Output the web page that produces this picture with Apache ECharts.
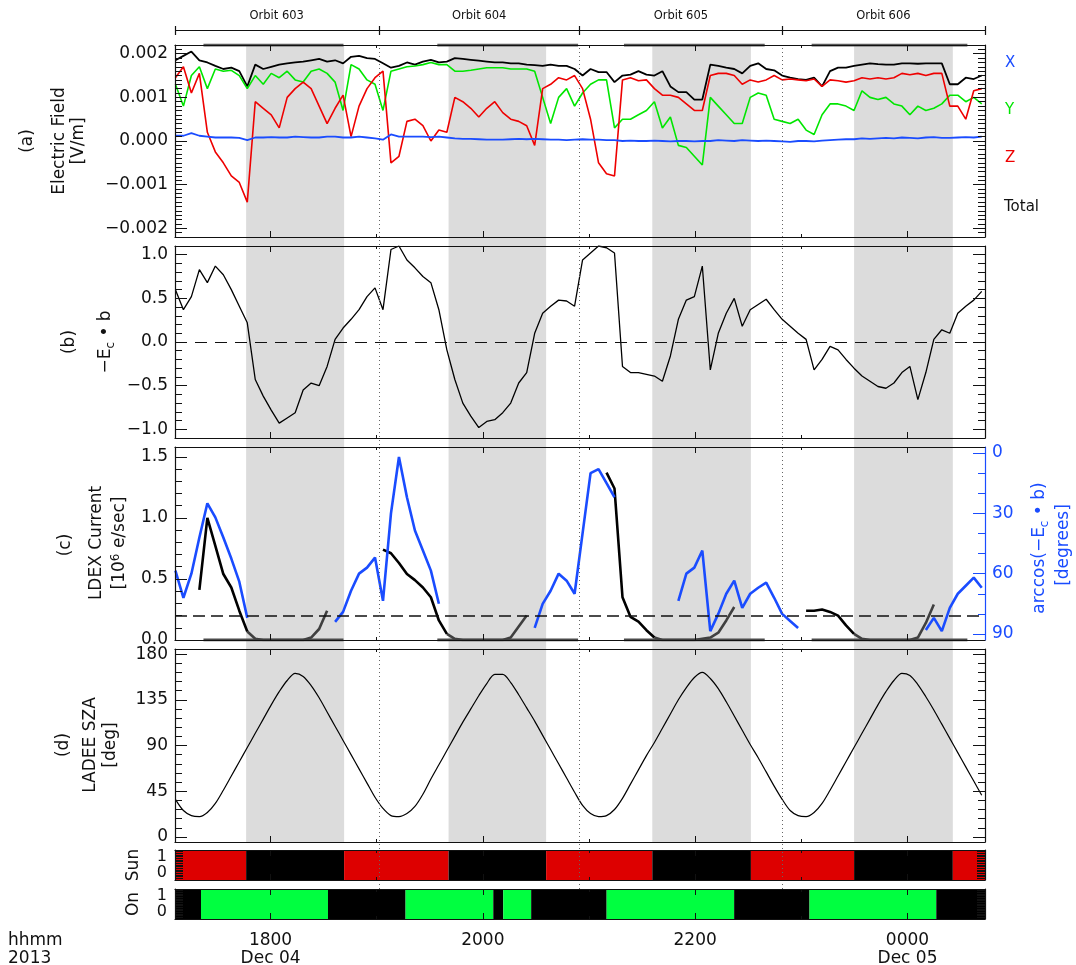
<!DOCTYPE html>
<html>
<head>
<meta charset="utf-8">
<title>LADEE orbits 603-606</title>
<script src="https://cdn.jsdelivr.net/npm/echarts@6/dist/echarts.min.js"></script>
<style>
html, body { margin: 0; padding: 0; background: #fff; }
#main { width: 1076px; height: 965px; }
</style>
</head>
<body>
<div id="main"></div>
<script>
// time in hours from 00:00 Dec 04, samples every ~4.5 min
var t0 = 17.104, dt = 0.0752;
var xMin = 17.10, xMax = 24.73;

// (a) electric field, units of 1e-3 V/m
var eTot = [1.85,1.95,2.05,1.85,1.8,1.72,1.65,1.68,1.6,1.25,
  1.75,1.65,1.7,1.75,1.78,1.8,1.82,1.85,1.88,1.82,
  1.85,1.78,1.93,1.95,1.9,1.88,1.78,1.68,1.72,1.8,
  1.75,1.82,1.86,1.8,1.82,1.9,1.88,1.86,1.84,1.82,
  1.8,1.8,1.78,1.78,1.75,1.74,1.72,1.75,1.72,1.72,
  1.65,1.5,1.65,1.58,1.58,1.35,1.5,1.52,1.6,1.52,
  1.5,1.6,1.25,1.12,1.12,0.95,0.95,1.75,1.72,1.68,
  1.65,1.55,1.72,1.78,1.65,1.62,1.5,1.45,1.42,1.4,
  1.45,1.25,1.6,1.68,1.68,1.72,1.75,1.78,1.76,1.75,
  1.75,1.78,1.78,1.77,1.78,1.78,1.78,1.3,1.3,1.45,
  1.42,1.5];
var eY = [1.3,0.8,1.5,1.7,1.2,1.65,1.6,1.62,1.5,1.2,
  1.5,1.3,1.55,1.45,1.6,1.4,1.35,1.6,1.65,1.55,
  1.35,0.7,1.75,1.65,1.4,1.3,0.7,1.6,1.65,1.7,
  1.72,1.75,1.8,1.75,1.75,1.6,1.6,1.62,1.65,1.68,
  1.68,1.68,1.65,1.65,1.65,1.6,1.0,0.4,1.0,1.2,
  0.8,1.1,1.3,1.4,1.4,0.3,0.5,0.5,0.6,0.7,
  0.9,0.3,0.55,-0.1,-0.15,-0.35,-0.55,1.0,0.8,0.6,
  0.4,0.4,1.0,1.1,1.05,0.5,0.45,0.4,0.5,0.25,
  0.15,0.6,0.85,0.85,0.8,0.7,1.15,1.0,0.95,1.0,
  0.85,0.8,0.6,0.8,0.7,0.75,0.85,1.05,1.05,0.9,
  1.0,0.85];
var eZ = [1.45,1.7,1.1,1.55,0.2,-0.25,-0.5,-0.8,-0.95,-1.4,
  0.9,0.75,0.6,0.3,1.0,1.2,1.35,1.2,0.8,0.4,
  0.75,1.05,0.1,0.8,1.2,1.45,1.6,-0.5,-0.35,0.45,
  0.5,0.35,0.0,0.25,0.2,1.0,0.9,0.75,0.55,0.75,
  0.9,0.65,0.5,0.45,0.35,-0.1,1.2,1.3,1.45,1.4,
  1.5,1.2,0.5,-0.5,-0.75,-0.8,1.4,1.45,1.38,1.4,
  1.2,1.05,1.05,1.0,0.85,0.7,0.7,1.5,1.55,1.55,
  1.5,1.3,1.4,1.35,1.4,1.5,1.4,1.42,1.4,1.38,
  1.42,1.25,1.4,1.38,1.35,1.38,1.45,1.42,1.45,1.42,
  1.45,1.55,1.52,1.55,1.5,1.55,1.55,0.8,0.8,0.5,
  1.15,1.2];
var eX = [0.12,0.12,0.18,0.12,0.1,0.08,0.08,0.08,0.07,0.02,
  0.08,0.08,0.09,0.08,0.08,0.1,0.09,0.08,0.08,0.1,
  0.1,0.08,0.08,0.1,0.08,0.06,0.03,0.15,0.1,0.1,
  0.1,0.1,0.09,0.1,0.08,0.06,0.05,0.05,0.04,0.03,
  0.03,0.03,0.04,0.05,0.04,0.05,0.04,0.03,0.03,0.02,
  0.03,0.04,0.03,0.03,0.02,0.02,0.0,0.01,0.0,0.0,
  0.01,0.0,-0.01,0.0,0.0,-0.01,0.0,0.0,0.02,0.01,
  0.0,0.02,0.01,0.0,0.01,0.0,-0.01,-0.02,0.0,0.0,
  -0.01,0.01,0.02,0.03,0.04,0.04,0.06,0.05,0.06,0.07,
  0.06,0.08,0.07,0.06,0.08,0.09,0.07,0.07,0.08,0.09,
  0.08,0.1];

// (b) -Ec . b
var ecb = [0.6,0.37,0.52,0.83,0.68,0.87,0.77,0.6,0.41,0.22,
  -0.43,-0.62,-0.78,-0.93,-0.87,-0.81,-0.55,-0.47,-0.5,-0.28,
  0.03,0.16,0.26,0.37,0.52,0.62,0.37,1.06,1.1,0.94,
  0.85,0.75,0.68,0.37,-0.09,-0.43,-0.7,-0.85,-0.98,-0.91,
  -0.89,-0.81,-0.7,-0.47,-0.35,0.1,0.33,0.41,0.48,0.47,
  0.41,0.94,1.02,1.1,1.08,1.02,-0.28,-0.35,-0.35,-0.37,
  -0.39,-0.45,-0.16,0.26,0.48,0.52,0.87,-0.32,0.1,0.33,
  0.5,0.18,0.37,0.43,0.49,0.37,0.26,0.18,0.1,0.03,
  -0.32,-0.2,-0.05,-0.09,-0.2,-0.3,-0.39,-0.45,-0.51,-0.53,
  -0.47,-0.35,-0.28,-0.66,-0.35,0.03,0.14,0.1,0.33,0.41,
  0.48,0.58];

// (c) LDEX current (1e6 e/sec) in sunlight / shadow, and arccos(-Ec.b) in degrees
var n = null;
var ldexSun = [n,n,n,0.41,1.0,0.77,0.54,0.43,0.24,0.07,
  n,n,n,n,n,n,n,n,n,n,
  n,n,n,n,n,n,0.74,0.71,0.63,0.54,
  0.49,0.43,0.35,0.16,0.05,n,n,n,n,n,
  n,n,n,n,n,n,n,n,n,n,
  n,n,n,n,1.37,1.24,0.35,0.19,0.15,0.08,
  0.02,n,n,n,n,n,n,n,n,n,
  n,n,n,n,n,n,n,n,n,0.24,
  0.24,0.25,0.23,0.2,0.12,0.05,n,n,n,n,
  n,n,n,n,n,n,n,n,n,n,
  n,n];
var ldexShadow = [n,n,n,n,n,n,n,n,n,0.07,
  0.01,0.0,0.0,0.0,0.0,0.0,0.0,0.02,0.09,0.24,
  n,n,n,n,n,n,n,n,n,n,
  n,n,n,n,0.05,0.01,0.0,0.0,0.0,0.0,
  0.0,0.0,0.02,0.11,0.2,n,n,n,n,n,
  n,n,n,n,n,n,n,n,n,n,
  0.02,0.0,0.0,0.0,0.0,0.0,0.01,0.02,0.06,0.16,
  0.27,n,n,n,n,n,n,n,n,n,
  n,n,n,n,n,0.05,0.01,0.0,0.0,0.0,
  0.0,0.0,0.0,0.02,0.14,0.29,n,n,n,n,
  n,n];
var arcDeg = [58.5,72,60,42,25,32,42,52.5,64,82,
  n,n,n,n,n,n,n,n,n,n,
  84,79,68.5,60,57,52,73.5,30,2,22,
  38.5,48.5,58.5,75,n,n,n,n,n,n,
  n,n,n,n,n,87,75,68.5,60,63.5,
  70,40,10,8,15,22,n,n,n,n,
  n,n,n,73.5,60,57,48.5,88.6,80,70,
  63.5,77,70,67,64.5,72,80,83.5,87,n,
  n,n,n,n,n,n,n,n,n,n,
  n,n,n,n,88,82,88.6,77,70,66,
  62,67];
var ldexThreshold = 0.2;

// (d) solar zenith angle, degrees
var sza = [37,26,21,20,24,33,46,60,74,88,
  102,116,130,143,154,161,158,149,137,123,
  109,95,81,67,53,39,28,21,20,23,
  30,42,57,71,85,99,113,126,139,151,
  160,160,152,140,127,114,100,86,72,58,
  44,31,23,20,21,27,38,52,66,80,
  93,107,121,135,147,157,162,156,146,133,
  119,105,91,78,64,50,37,26,21,20,
  24,33,46,60,74,88,102,116,130,143,
  154,161,159,150,138,125,111,97,83,69,
  55,41];

var orbitEdges = [17.10, 19.016, 20.915, 22.815, 24.73];
var orbitNames = ['Orbit 603', 'Orbit 604', 'Orbit 605', 'Orbit 606'];
var sunEdges = [17.10, 17.770, 18.693, 19.677, 20.596, 21.596, 22.525, 23.497, 24.427, 24.73];
var sunState = [1, 0, 1, 0, 1, 0, 1, 0, 1];
var onEdges = [17.10, 17.345, 18.541, 19.272, 20.098, 20.192, 20.455, 21.166, 22.367, 23.077, 24.271, 24.73];
var onState = [0, 1, 0, 1, 0, 1, 0, 1, 0, 1, 0];
var flagSpans = [[17.368, 18.687], [19.571, 20.897], [21.329, 22.655], [23.097, 24.564]];

var xTickHours = [18, 20, 22, 24];
var xMinorHours = [19, 21, 23];
var xTickLabels = ['1800\nDec 04', '2000', '2200', '0000\nDec 05'];
var aTicks = [-2, -1, 0, 1, 2];
var aLabels = ['\u22120.002', '\u22120.001', '0.000', '0.001', '0.002'];
var bTicks = [-1, -0.5, 0, 0.5, 1];
var bLabels = ['\u22121.0', '\u22120.5', '0.0', '0.5', '1.0'];
var cTicks = [0, 0.5, 1, 1.5];
var cLabels = ['0.0', '0.5', '1.0', '1.5'];
var degTicks = [0, 30, 60, 90];
var degLabels = ['0', '30', '60', '90'];
var dTicks = [0, 45, 90, 135, 180];
var dLabels = ['0', '45', '90', '135', '180'];
var binTicks = [0, 1];
var binLabels = ['0', '1'];

var FONT = 'DejaVu Sans';
var INK = '#111';
var BLUE = '#1a4cff';
var grids = [], xAxes = [], yAxes = [], series = [];

function seq(a, b, s) {
  var out = [];
  for (var k = 0; a + k * s <= b + s * 1e-6; k++) out.push(+(a + k * s).toFixed(6));
  return out;
}
function pairs(vals) {
  return vals.map(function (v, i) { return [+(t0 + i * dt).toFixed(4), v === null ? '-' : v]; });
}
function spanLine(spans, y) {
  var out = [];
  spans.forEach(function (s) { out.push([s[0], y], [s[1], y], [s[1], '-']); });
  return out;
}
function lookup(ticks, labels) {
  return function (v) {
    for (var k = 0; k < ticks.length; k++) if (Math.abs(ticks[k] - v) < 1e-6) return labels[k];
    return '';
  };
}
function addGrid(top, height) {
  grids.push({left: 175, width: 810, top: top, height: height, containLabel: false, outerBoundsMode: 'none'});
  return grids.length - 1;
}

function yAxisDef(g, pos, min, max, inverse, ticks, len, line, labels, majors, color) {
  return {
    type: 'value', gridIndex: g, position: pos, min: min, max: max, inverse: inverse, z: 5,
    axisLine: {show: line, onZero: false, lineStyle: {color: color, width: 1.2}},
    axisTick: {show: true, inside: true, length: len, customValues: ticks, lineStyle: {color: color, width: 1}},
    axisLabel: labels ? {show: true, customValues: majors, formatter: lookup(majors, labels),
      hideOverlap: false, showMinLabel: true, showMaxLabel: true,
      fontFamily: FONT, fontSize: 17, color: color, margin: 7} : {show: false},
    splitLine: {show: false}
  };
}

function addPanel(p) {
  var g = addGrid(p.top, p.height);
  var xi = xAxes.length;
  [['bottom', xTickHours, 6, true], ['bottom', xMinorHours, 3, false],
   ['top', xTickHours, 6, true], ['top', xMinorHours, 3, false]].forEach(function (d, k) {
    xAxes.push({
      type: 'value', gridIndex: g, position: d[0], min: xMin, max: xMax, z: 5,
      axisLine: {show: d[3], onZero: false, lineStyle: {color: INK, width: 1.2}},
      axisTick: {show: true, inside: true, length: d[2], customValues: d[1], lineStyle: {color: INK}},
      axisLabel: (p.showX && k === 0) ? {show: true, customValues: xTickHours, formatter: lookup(xTickHours, xTickLabels),
        fontFamily: FONT, fontSize: 17, color: INK, margin: 13, lineHeight: 18} : {show: false},
      splitLine: {show: false}
    });
  });
  var tl = p.tickLen || 12, ml = p.minorLen || 7;
  var minors = seq(p.minor[0], p.minor[1], p.minor[2]);
  var yi = yAxes.length;
  yAxes.push(yAxisDef(g, 'left', p.yMin, p.yMax, false, p.majors, tl, true, p.labels, p.majors, INK));
  yAxes.push(yAxisDef(g, 'left', p.yMin, p.yMax, false, minors, ml, false, null, null, INK));
  var r = p.right;
  var yr = yAxes.length;
  if (r) {
    var rMinors = seq(r.minor[0], r.minor[1], r.minor[2]);
    yAxes.push(yAxisDef(g, 'right', r.min, r.max, r.inverse, r.majors, tl, true, r.labels, r.majors, r.color));
    yAxes.push(yAxisDef(g, 'right', r.min, r.max, r.inverse, rMinors, ml, false, null, null, r.color));
  } else {
    yAxes.push(yAxisDef(g, 'right', p.yMin, p.yMax, false, p.majors, tl, true, null, null, INK));
    yAxes.push(yAxisDef(g, 'right', p.yMin, p.yMax, false, minors, ml, false, null, null, INK));
  }
  return {x: xi, y: yi, yr: yr};
}

function hiddenGrid(top, height) {
  var g = addGrid(top, height);
  xAxes.push({type: 'value', gridIndex: g, min: xMin, max: xMax, show: false});
  yAxes.push({type: 'value', gridIndex: g, min: 0, max: 1, show: false});
  return {x: xAxes.length - 1, y: yAxes.length - 1};
}

function line(ax, yIdx, data, color, width, extra) {
  var s = {
    type: 'line', xAxisIndex: ax.x, yAxisIndex: yIdx, data: data, showSymbol: false, silent: true,
    lineStyle: {color: color, width: width}, itemStyle: {color: color}, z: 2, animation: false
  };
  for (var k in extra) s[k] = extra[k];
  return s;
}

// shadow shading behind panels a-d
var shadowSpans = [];
sunState.forEach(function (s, k) { if (s === 0) shadowSpans.push([{xAxis: sunEdges[k]}, {xAxis: sunEdges[k + 1]}]); });
var bg = hiddenGrid(45, 797);
series.push(line(bg, bg.y, [[xMin, 0.5], [xMax, 0.5]], 'rgba(0,0,0,0)', 0, {
  z: 1, markArea: {silent: true, itemStyle: {color: '#dcdcdc'}, data: shadowSpans}
}));

// orbit bar
var ob = hiddenGrid(26, 9);
var orbitAreas = orbitNames.map(function (nm, k) { return [{xAxis: orbitEdges[k], name: nm}, {xAxis: orbitEdges[k + 1]}]; });
series.push(line(ob, ob.y, [[xMin, 0.5], [xMax, 0.5]], INK, 1.2, {
  markLine: {silent: true, symbol: 'none', label: {show: false}, lineStyle: {color: INK, width: 1.2, type: 'solid'},
    data: orbitEdges.map(function (e) { return {xAxis: e}; })},
  markArea: {silent: true, itemStyle: {color: 'rgba(0,0,0,0)'},
    label: {show: true, position: 'top', distance: 4, fontFamily: FONT, fontSize: 11.5, color: INK},
    data: orbitAreas}
}));

// panels
var pa = addPanel({top: 45, height: 192, yMin: -2.2, yMax: 2.2, majors: aTicks, labels: aLabels, minor: [-2.2, 2.2, 0.1]});
var pb = addPanel({top: 246, height: 192, yMin: -1.1, yMax: 1.1, majors: bTicks, labels: bLabels, minor: [-1.1, 1.1, 0.1]});
var pc = addPanel({top: 447, height: 193, yMin: 0, yMax: 1.58, majors: cTicks, labels: cLabels, minor: [0, 1.5, 0.1],
  right: {min: -3, max: 93, inverse: true, majors: degTicks, labels: degLabels, minor: [0, 90, 10], color: BLUE}});
var pd = addPanel({top: 649, height: 193, yMin: -5, yMax: 185, majors: dTicks, labels: dLabels, minor: [0, 180, 9]});
// the 0/1 labels of the two flag bars are placed below from the axis scale
var ps = addPanel({top: 850, height: 30, yMin: -0.4, yMax: 1.4, majors: binTicks, labels: null, minor: [-0.4, 1.4, 0.1], tickLen: 8, minorLen: 8});
var pn = addPanel({top: 889, height: 30, yMin: -0.4, yMax: 1.4, majors: binTicks, labels: null, minor: [-0.4, 1.4, 0.1], tickLen: 8, minorLen: 8, showX: true});

// (a)
series.push(line(pa, pa.y, spanLine(flagSpans, 2.2), '#5a5a5a', 3));
series.push(line(pa, pa.y, pairs(eTot), '#000', 1.8));
series.push(line(pa, pa.y, pairs(eY), '#00e600', 1.6));
series.push(line(pa, pa.y, pairs(eZ), '#ee0000', 1.6));
series.push(line(pa, pa.y, pairs(eX), BLUE, 1.8));

// (b)
series.push(line(pb, pb.y, pairs(ecb), '#000', 1.3, {
  markLine: {silent: true, symbol: 'none', label: {show: false}, lineStyle: {color: INK, width: 1, type: [12, 8]}, data: [{yAxis: 0}]}
}));

// (c)
series.push(line(pc, pc.y, spanLine(flagSpans, 0), '#4a4a4a', 3));
series.push(line(pc, pc.y, pairs(ldexShadow), '#404040', 2.6));
series.push(line(pc, pc.y, pairs(ldexSun), '#000', 2.6, {
  markLine: {silent: true, symbol: 'none', label: {show: false}, lineStyle: {color: INK, width: 1.5, type: [12, 6]}, data: [{yAxis: ldexThreshold}]}
}));
series.push(line(pc, pc.yr, pairs(arcDeg), BLUE, 2.6));

// (d)
series.push(line(pd, pd.y, pairs(sza), '#000', 1.2, {smooth: 0.3}));

// Sun / On bars
function stateAreas(edges, state, colors) {
  return state.map(function (s, k) {
    return [{xAxis: edges[k], itemStyle: {color: colors[s]}}, {xAxis: edges[k + 1]}];
  });
}
series.push(line(ps, ps.y, [[xMin, 0.5], [xMax, 0.5]], 'rgba(0,0,0,0)', 0, {
  markArea: {silent: true, data: stateAreas(sunEdges, sunState, ['#000', '#dd0000'])}
}));
series.push(line(pn, pn.y, [[xMin, 0.5], [xMax, 0.5]], 'rgba(0,0,0,0)', 0, {
  markArea: {silent: true, data: stateAreas(onEdges, onState, ['#000', '#00ff40'])}
}));

// orbit boundaries, dotted through all panels
var ov = hiddenGrid(45, 844);
series.push(line(ov, ov.y, [[xMin, 0.5], [xMax, 0.5]], 'rgba(0,0,0,0)', 0, {
  z: 3,
  markLine: {silent: true, symbol: 'none', label: {show: false}, lineStyle: {color: '#666', width: 1, type: [1, 3]},
    data: orbitEdges.slice(1, -1).map(function (e) { return {xAxis: e}; })}
}));

function vtext(x, y, text, size, color, rich) {
  return {type: 'text', x: x, y: y, rotation: Math.PI / 2, silent: true, z: 10,
    style: {text: text, fontFamily: FONT, fontSize: size, fill: color || INK, align: 'center', verticalAlign: 'middle', rich: rich || {}}};
}
function htext(x, y, text, size, color, align) {
  return {type: 'text', x: x, y: y, silent: true, z: 10,
    style: {text: text, fontFamily: FONT, fontSize: size, fill: color || INK, align: align || 'left', verticalAlign: 'middle'}};
}
var subRich = {s: {fontSize: 12, fontFamily: FONT, padding: [9, 0, 0, 0]}};
var supRich = {p: {fontSize: 12, fontFamily: FONT, padding: [0, 0, 9, 0]}};

var graphics = [
  vtext(28, 141, '(a)', 17), vtext(60, 141, 'Electric Field', 17), vtext(79, 141, '[V/m]', 17),
  vtext(70, 342, '(b)', 17), vtext(106, 342, '\u2212E{s|c} \u2022 b', 17, INK, subRich),
  vtext(66, 545, '(c)', 17), vtext(97, 543, 'LDEX Current', 17), vtext(120, 543, '[10{p|6} e/sec]', 17, INK, supRich),
  vtext(64, 745, '(d)', 17), vtext(91, 745, 'LADEE SZA', 17), vtext(111, 745, '[deg]', 17),
  vtext(1040, 548, 'arccos(\u2212E{s|c} \u2022 b)', 17, BLUE, {s: {fontSize: 12, fontFamily: FONT, fill: BLUE, padding: [9, 0, 0, 0]}}),
  vtext(1064, 545, '[degrees]', 17, BLUE),
  vtext(134, 865, 'Sun', 17), vtext(134, 904, 'On', 17),
  htext(1005, 63, 'X', 15, BLUE), htext(1005, 110, 'Y', 15, '#00e600'),
  htext(1005, 158, 'Z', 15, '#ee0000'), htext(1004, 207, 'Total', 15, INK),
  htext(8, 941, 'hhmm', 17), htext(8, 959, '2013', 17)
];

var chart = echarts.init(document.getElementById('main'));
chart.setOption({
  animation: false,
  backgroundColor: '#fff',
  grid: grids,
  xAxis: xAxes,
  yAxis: yAxes,
  series: series,
  graphic: graphics
});

// tick labels of the Sun / On bars, positioned through their y axes
[ps, pn].forEach(function (p) {
  binTicks.forEach(function (v, k) {
    var py = chart.convertToPixel({yAxisIndex: p.y}, v);
    graphics.push(htext(167, py, binLabels[k], 16, INK, 'right'));
  });
});
chart.setOption({graphic: graphics});
</script>
</body>
</html>
